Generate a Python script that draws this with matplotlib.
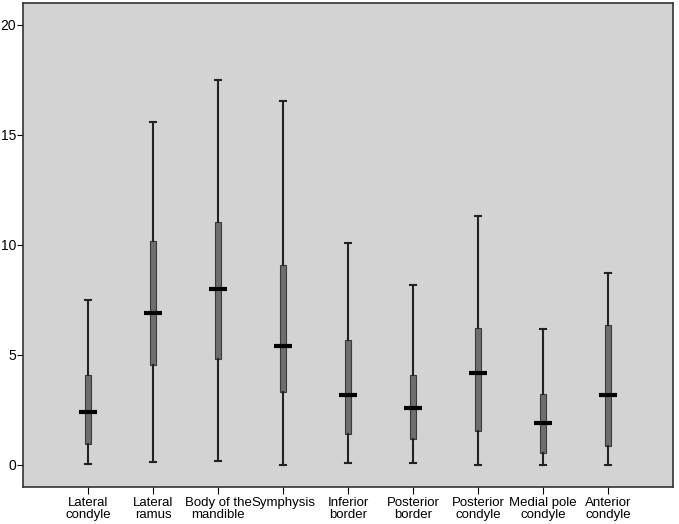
import numpy as np
import matplotlib.pyplot as plt

plt.rcParams['font.family'] = ['Liberation Sans', 'DejaVu Sans']

categories = ["Lateral\ncondyle", "Lateral\nramus", "Body of the\nmandible", "Symphysis",
              "Inferior\nborder", "Posterior\nborder", "Posterior\ncondyle",
              "Medial pole\ncondyle", "Anterior\ncondyle"]
whislo = [0.05, 0.13, 0.2, 0.0, 0.1, 0.1, 0.0, 0.0, 0.0]
q1 = [0.95, 4.55, 4.8, 3.3, 1.4, 1.2, 1.55, 0.55, 0.85]
med = [2.4, 6.9, 8.0, 5.4, 3.2, 2.6, 4.2, 1.9, 3.2]
q3 = [4.1, 10.2, 11.05, 9.1, 5.7, 4.1, 6.25, 3.25, 6.35]
whishi = [7.5, 15.6, 17.5, 16.55, 10.1, 8.2, 11.3, 6.2, 8.75]

stats = []
for i in range(len(categories)):
    stats.append(dict(whislo=whislo[i], q1=q1[i], med=med[i], q3=q3[i], whishi=whishi[i], fliers=[]))

fig = plt.figure(figsize=(6.79, 5.24), dpi=100)
ax = fig.add_axes([23 / 679, 37 / 524, 650 / 679, 484 / 524])
ax.set_facecolor('#d3d3d3')

pos = np.arange(1, len(categories) + 1)
ax.bxp(stats, positions=pos, widths=0.08, capwidths=0.08, patch_artist=True, showfliers=False,
       boxprops=dict(facecolor='#6e6e6e', edgecolor='#3a3a3a', linewidth=0.8),
       whiskerprops=dict(color='#222222', linewidth=1.5),
       capprops=dict(color='#222222', linewidth=1.5),
       medianprops=dict(linewidth=0))
ax.plot(pos, med, linestyle='none', marker='_', markersize=12.5, markeredgewidth=3, color='black')

ax.set_xlim(0, 10)
ax.set_ylim(-1, 21)
ax.set_yticks([0, 5, 10, 15, 20])
ax.set_xticks(pos)
ax.set_xticklabels(categories, fontsize=9.5, linespacing=1.0)
ax.tick_params(axis='y', labelsize=10, length=4, pad=1)
ax.tick_params(axis='x', length=5, pad=2)
for s in ax.spines.values():
    s.set_linewidth(1.2)
    s.set_color('#333333')

fig.savefig('out.png', dpi=100)
